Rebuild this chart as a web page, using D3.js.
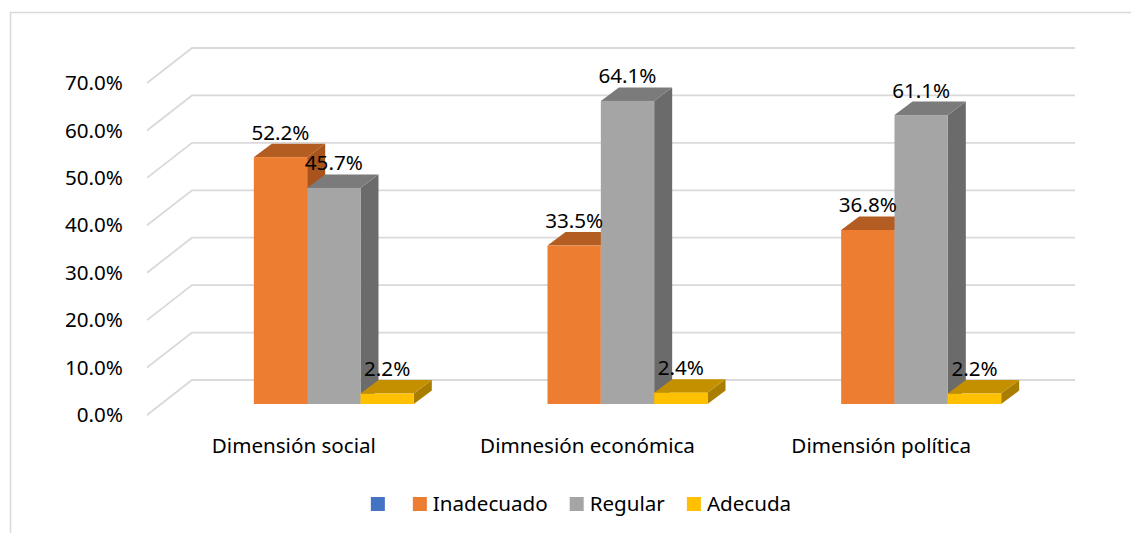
<!DOCTYPE html>
<html>
<head>
<meta charset="utf-8">
<script src="https://cdn.jsdelivr.net/npm/d3@7"></script>
<style>
  body { margin: 0; background: #fff; }
  svg text { font-family: "Noto Sans", "Open Sans", sans-serif; fill: #000; }
</style>
</head>
<body>
<svg id="chart" width="1131" height="533"></svg>
<script>
// data
var categories = ["Dimensión social", "Dimnesión económica", "Dimensión política"];
var seriesNames = ["Inadecuado", "Regular", "Adecuda"];
var inadecuado = [52.2, 33.5, 36.8];
var regular = [45.7, 64.1, 61.1];
var adecuda = [2.2, 2.4, 2.2];
var yTicks = [0, 10, 20, 30, 40, 50, 60, 70];
var legendNames = ["", "Inadecuado", "Regular", "Adecuda"];

var front = { Inadecuado: "#ED7D31", Regular: "#A5A5A5", Adecuda: "#FFC000" };
var topC = { Inadecuado: "#B45D22", Regular: "#7B7B7B", Adecuda: "#C49000" };
var sideC = { Inadecuado: "#A9541D", Regular: "#6B6B6B", Adecuda: "#A97E00" };
var legendColors = ["#4472C4", "#ED7D31", "#A5A5A5", "#FFC000"];
var fs = "20.6px";

var svg = d3.select("#chart");

// chart border
svg.append("path")
  .attr("d", "M10.5,533 L10.5,12.5 L1131,12.5")
  .attr("fill", "none").attr("stroke", "#d9d9d9").attr("stroke-width", 1.5);

var yBack = d3.scaleLinear().domain([0, 70]).range([380, 48]);
var yFront = d3.scaleLinear().domain([0, 70]).range([415, 83]);
var yBar = d3.scaleLinear().domain([0, 70]).range([404, 73]);
var xFront = d3.scaleBand().domain(categories).range([147, 1028]);
var xBar = d3.scaleBand().domain(seriesNames).range([-80, 80]);
var backLeft = 192, backRight = 1075, frontLeft = 147;
var dx = 18, dy = -13.5;

// gridlines: side-wall diagonal + back wall horizontal
var grid = svg.append("g");
yTicks.forEach(function(t) {
  grid.append("path")
    .attr("d", "M" + frontLeft + "," + yFront(t) + " L" + backLeft + "," + yBack(t) + " L" + backRight + "," + yBack(t))
    .attr("fill", "none").attr("stroke", "#d9d9d9").attr("stroke-width", 1.8);
});

// y tick labels
svg.append("g").selectAll("text")
  .data(yTicks).join("text")
  .attr("x", 123).attr("y", function(d) { return yFront(d); })
  .attr("dy", "0.35em")
  .attr("text-anchor", "end")
  .style("font-size", fs)
  .text(function(d) { return d.toFixed(1) + "%"; });

// bars
var values = { Inadecuado: inadecuado, Regular: regular, Adecuda: adecuda };
var bars = [];
categories.forEach(function(c, i) {
  seriesNames.forEach(function(s) {
    bars.push({ cat: c, s: s, v: values[s][i] });
  });
});

var bw = xBar.bandwidth();
var g = svg.append("g");
bars.forEach(function(d) {
  var x0 = xFront(d.cat) + xFront.bandwidth() / 2 + 40 + xBar(d.s);
  var x1 = x0 + bw;
  var y0 = yBar(0), y1 = yBar(d.v);
  // side
  g.append("path")
    .attr("d", "M" + x1 + "," + y1 + " L" + (x1 + dx) + "," + (y1 + dy) + " L" + (x1 + dx) + "," + (y0 + dy) + " L" + x1 + "," + y0 + "Z")
    .attr("fill", sideC[d.s]);
  // top
  g.append("path")
    .attr("d", "M" + x0 + "," + y1 + " L" + (x0 + dx) + "," + (y1 + dy) + " L" + (x1 + dx) + "," + (y1 + dy) + " L" + x1 + "," + y1 + "Z")
    .attr("fill", topC[d.s]);
  // front
  g.append("rect")
    .attr("x", x0).attr("y", y1)
    .attr("width", bw).attr("height", y0 - y1)
    .attr("fill", front[d.s]);
});

// value labels
svg.append("g").selectAll("text")
  .data(bars).join("text")
  .attr("x", function(d) { return xFront(d.cat) + xFront.bandwidth() / 2 + 40 + xBar(d.s) + bw / 2; })
  .attr("y", function(d) { return yBar(d.v) + dy - 4; })
  .attr("text-anchor", "middle")
  .style("font-size", fs)
  .text(function(d) { return d.v.toFixed(1) + "%"; });

// category labels
svg.append("g").selectAll("text")
  .data(categories).join("text")
  .attr("x", function(d) { return xFront(d) + xFront.bandwidth() / 2; })
  .attr("y", 453)
  .attr("text-anchor", "middle")
  .style("font-size", fs)
  .text(function(d) { return d; });

// legend
var legend = svg.append("g");
var items = legend.selectAll("g").data(legendNames).join("g");
items.append("rect").attr("width", 14).attr("height", 14).attr("y", -7)
  .attr("fill", function(d, i) { return legendColors[i]; });
items.append("text").attr("x", 20).attr("dy", "0.35em")
  .style("font-size", fs)
  .text(function(d) { return d; });
var pos = 0, offs = [];
items.each(function() {
  offs.push(pos);
  var w = d3.select(this).select("text").node().getComputedTextLength();
  pos += 14 + 6 + w + 22;
});
var total = pos - 22;
var lx = 581 - total / 2;
items.attr("transform", function(d, i) { return "translate(" + (lx + offs[i]) + ",504)"; });
</script>
</body>
</html>
